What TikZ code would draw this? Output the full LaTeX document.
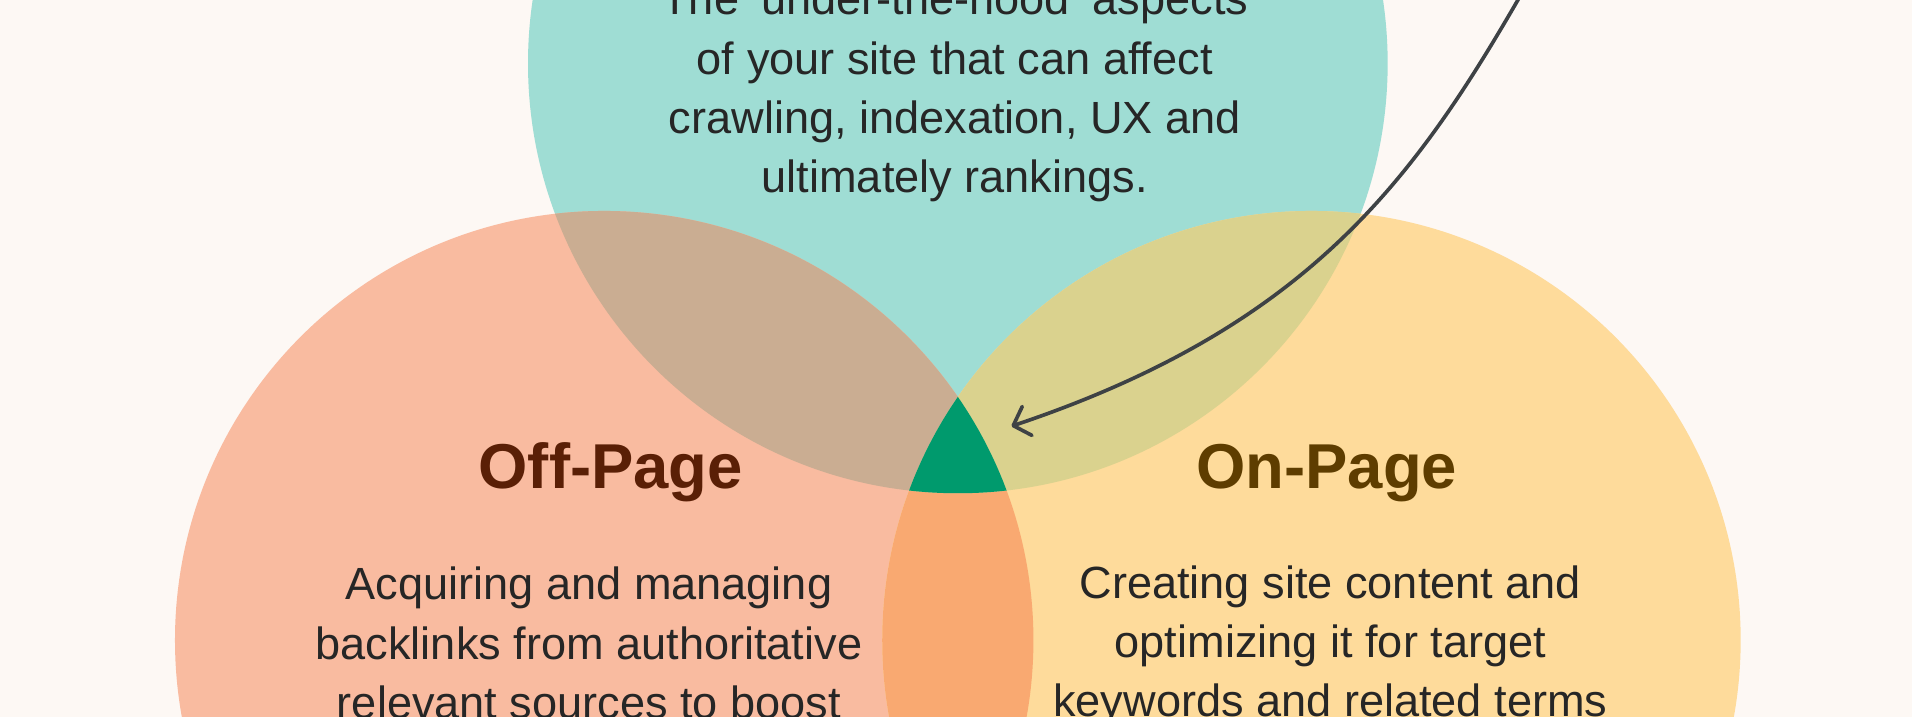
\documentclass[tikz,border=0pt]{standalone}
\usepackage{fontspec}
\setmainfont{Liberation Sans}
\usetikzlibrary{arrows.meta}
\definecolor{bgc}{HTML}{FDF8F4}
\definecolor{tealc}{HTML}{9FDDD4}
\definecolor{salmonc}{HTML}{F9BBA0}
\definecolor{yellowc}{HTML}{FEDB9B}
\definecolor{tanc}{HTML}{CAAD92}
\definecolor{olivec}{HTML}{DAD28E}
\definecolor{orangec}{HTML}{F9A971}
\definecolor{greenc}{HTML}{009A6D}
\definecolor{txtc}{HTML}{262626}
\definecolor{offc}{HTML}{5A1F06}
\definecolor{onc}{HTML}{5E3D00}
\definecolor{arrowc}{HTML}{3E4245}
\begin{document}
\begin{tikzpicture}[x=1pt,y=-1pt,
  body/.style={font=\fontsize{37}{45}\selectfont, text=txtc, anchor=base, inner sep=0pt},
  title/.style={font=\fontsize{52}{60}\selectfont\bfseries, anchor=base, inner sep=0pt},
  pointer/.style={draw=arrowc, line width=3pt, line cap=round,
    -{Straight Barb[length=12pt,width=25pt,line cap=round,line join=round]}}]
\useasboundingbox (0,0) rectangle (1568,588);
\clip (0,0) rectangle (1568,588);
\fill[bgc] (0,0) rectangle (1568,588);
% circles
\fill[tealc] (785.5,52) circle[radius=352.5];
\fill[salmonc] (495.5,525) circle[radius=352];
\fill[yellowc] (1075.5,525) circle[radius=352];
\begin{scope}
  \clip (495.5,525) circle[radius=352];
  \fill[orangec] (1075.5,525) circle[radius=352];
\end{scope}
\begin{scope}
  \clip (785.5,52) circle[radius=352.5];
  \fill[tanc] (495.5,525) circle[radius=352];
  \fill[olivec] (1075.5,525) circle[radius=352];
  \clip (495.5,525) circle[radius=352];
  \fill[greenc] (1075.5,525) circle[radius=352];
\end{scope}
% arrow
\coordinate (astart) at (1254,-18);
\coordinate (atip) at (829.5,349.5);
\draw[pointer] (astart) -- (1244.8,0) .. controls (1158,150) and (1070,269) .. (atip);
% texts
\node[body] (t1) at (783,12) {The ‘under-the-hood’ aspects};
\node[body] (t2) at (783,60.7) {of your site that can affect};
\node[body] (t3) at (783,109.4) {crawling, indexation, UX and};
\node[body] (t4) at (783,158.1) {ultimately rankings.};
\node[title, text=offc] (offtitle) at (500.8,400.5) {Off-Page};
\node[title, text=onc] (ontitle) at (1088,400.5) {On-Page};
\node[body] (l1) at (483,492) {Acquiring and managing};
\node[body] (l2) at (483,540.5) {backlinks from authoritative};
\node[body] (l3) at (483,589) {relevant sources to boost};
\node[body] (r1) at (1091,490.5) {Creating site content and};
\node[body] (r2) at (1091,539) {optimizing it for target};
\node[body] (r3) at (1091,587.5) {keywords and related terms};
\end{tikzpicture}
\end{document}
